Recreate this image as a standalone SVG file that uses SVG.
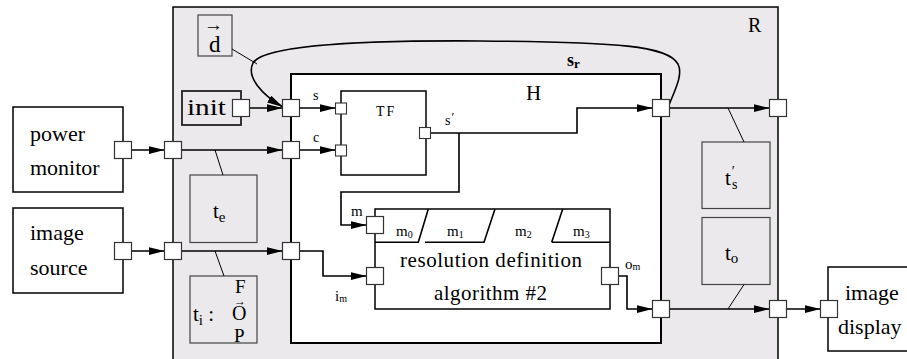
<svg xmlns="http://www.w3.org/2000/svg" width="907" height="359" viewBox="0 0 907 359">
<defs>
<marker id="ah" markerUnits="userSpaceOnUse" markerWidth="16" markerHeight="8" refX="16" refY="4" orient="auto"><path d="M0,0 L16,4 L0,8 z" fill="#000"/></marker>
</defs>
<style>
.box{fill:#fff;stroke:#000;stroke-width:1.5}
.port{fill:#fff;stroke:#333;stroke-width:1.2}
.sport{fill:#fff;stroke:#333;stroke-width:1.1}
.tbox{fill:#ebe9ec;stroke:#444;stroke-width:1.2}
.wire{fill:none;stroke:#000;stroke-width:1.6}
.arr{marker-end:url(#ah)}
.thin{fill:none;stroke:#000;stroke-width:1}
text{font-family:"Liberation Serif","Times New Roman",serif;fill:#000}
.big{font-size:22px}
.lab{font-size:14px}
.m{font-size:15px}
.sub{font-size:10px}
</style>
<rect x="0" y="0" width="907" height="359" fill="#fff"/>

<g id="R">
<rect x="173" y="7" width="605" height="362" fill="#ebe9ec" stroke="#000" stroke-width="1.5"/>
<text x="748" y="32" font-size="20">R</text>
</g>

<g id="H">
<rect x="291" y="74" width="370" height="269" fill="#fff" stroke="#000" stroke-width="2"/>
<text x="526" y="100" font-size="21">H</text>
</g>

<g id="power-monitor">
<rect class="box" x="13" y="107" width="110" height="85"/>
<text class="big" x="30" y="141">power</text>
<text class="big" x="30" y="175">monitor</text>
</g>

<g id="image-source">
<rect class="box" x="13" y="208" width="110" height="85"/>
<text class="big" x="30" y="240">image</text>
<text class="big" x="30" y="275">source</text>
</g>

<g id="image-display">
<rect class="box" x="828" y="267" width="100" height="84"/>
<text class="big" x="845" y="300">image</text>
<text class="big" x="838" y="334">display</text>
</g>

<g id="d">
<rect class="tbox" x="198" y="15" width="34" height="41"/>
<text x="204" y="31" font-size="19">→</text>
<text x="209" y="52" font-size="23">d</text>
</g>

<g id="init">
<rect x="182" y="91" width="59" height="34" fill="#ebe9ec" stroke="#222" stroke-width="1.8"/>
<text x="187" y="115" font-size="24" textLength="39" lengthAdjust="spacingAndGlyphs">init</text>
</g>

<g id="t-e">
<rect class="tbox" x="190" y="175" width="67" height="67.5"/>
<text x="213" y="218" font-size="21">t<tspan font-size="15" dy="4">e</tspan></text>
</g>

<g id="t-i">
<rect class="tbox" x="190" y="276" width="67" height="67"/>
<text x="193" y="321" font-size="21">t<tspan font-size="15" dy="4">i</tspan><tspan dy="-4"> :</tspan></text>
<text x="235" y="293" font-size="19">F</text>
<text x="234" y="305" font-size="12">→</text>
<text x="232" y="320" font-size="20">O</text>
<text x="234" y="342" font-size="19">P</text>
</g>

<g id="t-s">
<rect class="tbox" x="702" y="142" width="68" height="66.5"/>
<text x="725" y="185" font-size="21">t<tspan font-size="14" dx="1" dy="-9">′</tspan><tspan font-size="14" dx="-3" dy="13">s</tspan></text>
</g>

<g id="t-o">
<rect class="tbox" x="702" y="217.5" width="68" height="67"/>
<text x="725" y="260" font-size="21">t<tspan font-size="15" dy="3">o</tspan></text>
</g>

<g id="TF">
<rect class="box" x="341" y="91" width="85" height="84"/>
<text x="376" y="116" font-size="14" letter-spacing="2">TF</text>
</g>

<g id="resolution-definition">
<rect class="box" x="375" y="209" width="235" height="100"/>
<path class="wire" d="M375,242.3 H418.3 L428.3,209 M425,242.3 H484 L495,209 M551.7,242.3 L562.7,209 M551.7,242.3 H610" stroke-width="1.5"/>
<text class="m" x="396" y="236">m<tspan class="sub" dy="2">0</tspan></text>
<text class="m" x="447" y="236">m<tspan class="sub" dy="2">1</tspan></text>
<text class="m" x="515" y="236">m<tspan class="sub" dy="2">2</tspan></text>
<text class="m" x="573" y="236">m<tspan class="sub" dy="2">3</tspan></text>
<text x="400" y="267" font-size="21" textLength="182">resolution definition</text>
<text x="434" y="300" font-size="21" textLength="113">algorithm #2</text>
</g>

<g id="connectors">
<path class="wire arr" d="M131.5,150 H164.5"/>
<path class="wire arr" d="M181.5,150 H282.5"/>
<path class="wire arr" d="M299.5,150 H335.5"/>
<path class="wire arr" d="M249.5,108 H282.5"/>
<path class="wire arr" d="M299.5,108 H335.5"/>
<path class="wire arr" d="M131.5,251 H164.5"/>
<path class="wire arr" d="M181.5,251 H282.5"/>
<path class="wire arr" d="M299.5,251 H323 V276 H366.5"/>
<path class="wire arr" d="M430.5,133 H577 V108 H652.5"/>
<path class="wire arr" d="M459,133 V192 H341 V225 H366.5"/>
<path class="wire arr" d="M669.5,108 H769.5"/>
<path class="wire arr" d="M618.5,276 H627 V309 H652.5"/>
<path class="wire arr" d="M669.5,309 H769.5"/>
<path class="wire arr" d="M786.5,309 H820.5"/>
<path class="wire arr" d="M669,105 C676,88 683,74 678,64 C668,46 620,42 480,41 C330,40 262,48 253,63 C246,77 262,95 283,107" stroke-width="2"/>
<path class="thin" d="M232,49 L257,64"/>
<path class="thin" d="M215,150 L223,175"/>
<path class="thin" d="M215,251 L224,276"/>
<path class="thin" d="M728,108 L744,142"/>
<path class="thin" d="M744,284.5 L728,309"/>
</g>

<g id="ports">
<rect class="port" x="114.5" y="141.5" width="17" height="17"/>
<rect class="port" x="114.5" y="242.5" width="17" height="17"/>
<rect class="port" x="164.5" y="141.5" width="17" height="17"/>
<rect class="port" x="164.5" y="242.5" width="17" height="17"/>
<rect class="port" x="232.5" y="99.5" width="17" height="17"/>
<rect class="port" x="282.5" y="99.5" width="17" height="17"/>
<rect class="port" x="282.5" y="141.5" width="17" height="17"/>
<rect class="port" x="282.5" y="242.5" width="17" height="17"/>
<rect class="sport" x="335.5" y="103" width="11" height="11"/>
<rect class="sport" x="335.5" y="145" width="11" height="11"/>
<rect class="sport" x="419.5" y="127.5" width="11" height="11"/>
<rect class="port" x="366.5" y="216.5" width="17" height="17"/>
<rect class="port" x="366.5" y="267.5" width="17" height="17"/>
<rect class="port" x="601.5" y="267.5" width="17" height="17"/>
<rect class="port" x="652.5" y="99.5" width="17" height="17"/>
<rect class="port" x="652.5" y="300.5" width="17" height="17"/>
<rect class="port" x="769.5" y="99.5" width="17" height="17"/>
<rect class="port" x="769.5" y="300.5" width="17" height="17"/>
<rect class="port" x="820.5" y="300.5" width="17" height="17"/>
</g>

<g id="labels">
<text x="567" y="66" font-size="18" font-weight="bold">s<tspan font-size="13" dy="2">r</tspan></text>
<text class="lab" x="313" y="100">s</text>
<text class="lab" x="313" y="142">c</text>
<text class="lab" x="445" y="125">s<tspan font-size="13" dx="1" dy="-4">′</tspan></text>
<text class="m" x="351" y="216">m</text>
<text class="m" x="335" y="301">i<tspan class="sub" dy="1">m</tspan></text>
<text class="m" x="625" y="269">o<tspan class="sub" dy="1">m</tspan></text>
</g>
</svg>
